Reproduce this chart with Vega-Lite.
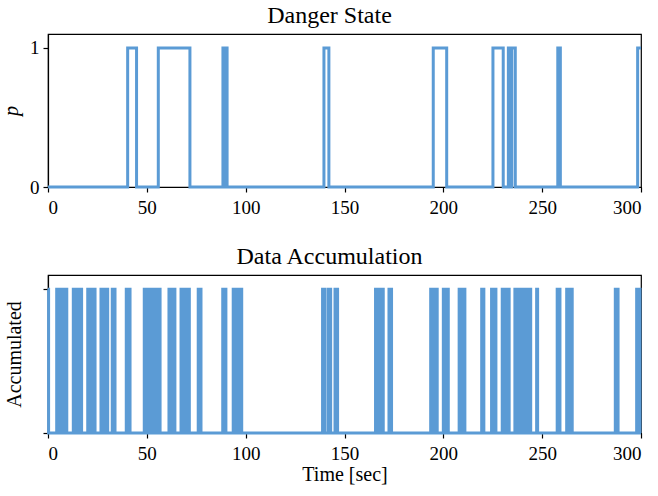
{
  "$schema": "https://vega.github.io/schema/vega-lite/v6.json",
  "background": "white",
  "padding": {"left": 0, "right": 0, "top": 3, "bottom": 5},
  "spacing": 26,
  "config": {
    "font": "Liberation Serif",
    "view": {"stroke": "black", "strokeWidth": 1.2},
    "axis": {"domainColor": "black", "tickColor": "black", "labelColor": "black", "titleColor": "black", "labelFont": "Liberation Serif", "titleFont": "Liberation Serif", "labelFontSize": 19, "titleFontSize": 20, "titleFontWeight": "normal", "grid": false, "tickSize": 5, "domainWidth": 1.2, "tickWidth": 1.2},
    "title": {"font": "Liberation Serif", "fontSize": 24, "fontWeight": "normal", "color": "black", "offset": 6, "dx": -15}
  },
  "datasets": {
    "danger": [
      {"t": 0, "p": 0}, {"t": 40.3, "p": 1}, {"t": 44.8, "p": 0}, {"t": 55.8, "p": 1}, {"t": 71.8, "p": 0},
      {"t": 88.5, "p": 1}, {"t": 89.0, "p": 0}, {"t": 89.4, "p": 1}, {"t": 89.8, "p": 0}, {"t": 90.1, "p": 1}, {"t": 90.6, "p": 0},
      {"t": 139.6, "p": 1}, {"t": 142.1, "p": 0}, {"t": 194.9, "p": 1}, {"t": 201.7, "p": 0},
      {"t": 225.1, "p": 1}, {"t": 230.3, "p": 0}, {"t": 232.9, "p": 1}, {"t": 234.0, "p": 0}, {"t": 234.6, "p": 1}, {"t": 236.4, "p": 0},
      {"t": 257.9, "p": 1}, {"t": 258.4, "p": 0}, {"t": 258.7, "p": 1}, {"t": 259.2, "p": 0},
      {"t": 298.3, "p": 1}, {"t": 300, "p": 1}
    ],
    "accum": [
      {"t": 0, "a": 1}, {"t": 0.3, "a": 0},
      {"t": 4.4, "a": 1}, {"t": 4.9, "a": 0}, {"t": 5.3, "a": 1}, {"t": 5.8, "a": 0}, {"t": 6.2, "a": 1}, {"t": 6.7, "a": 0}, {"t": 7.1, "a": 1}, {"t": 7.6, "a": 0}, {"t": 8.0, "a": 1}, {"t": 8.5, "a": 0}, {"t": 8.9, "a": 1}, {"t": 9.5, "a": 0},
      {"t": 12.8, "a": 1}, {"t": 13.3, "a": 0}, {"t": 13.7, "a": 1}, {"t": 14.2, "a": 0}, {"t": 14.6, "a": 1}, {"t": 15.1, "a": 0}, {"t": 15.5, "a": 1}, {"t": 16.0, "a": 0}, {"t": 16.4, "a": 1}, {"t": 17.0, "a": 0},
      {"t": 20.1, "a": 1}, {"t": 20.6, "a": 0}, {"t": 20.8, "a": 1}, {"t": 21.2, "a": 0},
      {"t": 22.4, "a": 1}, {"t": 22.9, "a": 0}, {"t": 23.3, "a": 1}, {"t": 23.8, "a": 0},
      {"t": 26.8, "a": 1}, {"t": 27.3, "a": 0}, {"t": 27.7, "a": 1}, {"t": 28.2, "a": 0}, {"t": 28.6, "a": 1}, {"t": 29.1, "a": 0}, {"t": 29.6, "a": 1}, {"t": 30.2, "a": 0},
      {"t": 32.5, "a": 1}, {"t": 33.0, "a": 0}, {"t": 33.4, "a": 1}, {"t": 33.9, "a": 0},
      {"t": 39.6, "a": 1}, {"t": 40.1, "a": 0}, {"t": 40.5, "a": 1}, {"t": 41.0, "a": 0}, {"t": 41.1, "a": 1}, {"t": 41.5, "a": 0},
      {"t": 48.7, "a": 1}, {"t": 49.2, "a": 0}, {"t": 49.6, "a": 1}, {"t": 50.1, "a": 0}, {"t": 50.5, "a": 1}, {"t": 51.0, "a": 0}, {"t": 51.4, "a": 1}, {"t": 51.9, "a": 0}, {"t": 52.1, "a": 1}, {"t": 52.5, "a": 0},
      {"t": 53.3, "a": 1}, {"t": 53.6, "a": 0}, {"t": 54.2, "a": 1}, {"t": 54.7, "a": 0}, {"t": 55.1, "a": 1}, {"t": 55.6, "a": 0}, {"t": 56.0, "a": 1}, {"t": 56.7, "a": 0},
      {"t": 61.2, "a": 1}, {"t": 61.7, "a": 0}, {"t": 62.1, "a": 1}, {"t": 62.6, "a": 0}, {"t": 63.0, "a": 1}, {"t": 63.5, "a": 0}, {"t": 63.8, "a": 1}, {"t": 64.2, "a": 0},
      {"t": 67.3, "a": 1}, {"t": 67.8, "a": 0}, {"t": 68.2, "a": 1}, {"t": 68.7, "a": 0}, {"t": 69.1, "a": 1}, {"t": 69.6, "a": 0}, {"t": 70.0, "a": 1}, {"t": 70.5, "a": 0}, {"t": 70.9, "a": 1}, {"t": 71.5, "a": 0},
      {"t": 76.0, "a": 1}, {"t": 76.5, "a": 0}, {"t": 76.9, "a": 1}, {"t": 77.4, "a": 0},
      {"t": 88.4, "a": 1}, {"t": 88.9, "a": 0}, {"t": 89.4, "a": 1}, {"t": 90.0, "a": 0},
      {"t": 93.7, "a": 1}, {"t": 94.2, "a": 0}, {"t": 94.6, "a": 1}, {"t": 95.1, "a": 0}, {"t": 95.5, "a": 1}, {"t": 96.0, "a": 0}, {"t": 96.4, "a": 1}, {"t": 96.9, "a": 0}, {"t": 97.3, "a": 1}, {"t": 98.0, "a": 0},
      {"t": 138.9, "a": 1}, {"t": 139.4, "a": 0}, {"t": 139.6, "a": 1}, {"t": 140.1, "a": 0},
      {"t": 141.8, "a": 1}, {"t": 142.3, "a": 0}, {"t": 142.5, "a": 1}, {"t": 143.0, "a": 0},
      {"t": 145.2, "a": 1}, {"t": 145.7, "a": 0}, {"t": 146.0, "a": 1}, {"t": 146.5, "a": 0},
      {"t": 165.7, "a": 1}, {"t": 166.2, "a": 0}, {"t": 166.6, "a": 1}, {"t": 167.1, "a": 0}, {"t": 167.5, "a": 1}, {"t": 168.0, "a": 0}, {"t": 168.4, "a": 1}, {"t": 168.9, "a": 0}, {"t": 169.1, "a": 1}, {"t": 169.6, "a": 0},
      {"t": 172.5, "a": 1}, {"t": 173.0, "a": 0}, {"t": 173.3, "a": 1}, {"t": 173.8, "a": 0},
      {"t": 193.6, "a": 1}, {"t": 194.1, "a": 0}, {"t": 194.5, "a": 1}, {"t": 195.0, "a": 0}, {"t": 195.4, "a": 1}, {"t": 195.9, "a": 0}, {"t": 196.3, "a": 1}, {"t": 196.9, "a": 0},
      {"t": 200.0, "a": 1}, {"t": 200.5, "a": 0}, {"t": 200.9, "a": 1}, {"t": 201.4, "a": 0}, {"t": 201.9, "a": 1}, {"t": 202.5, "a": 0},
      {"t": 208.0, "a": 1}, {"t": 208.5, "a": 0}, {"t": 208.9, "a": 1}, {"t": 209.4, "a": 0}, {"t": 209.8, "a": 1}, {"t": 210.3, "a": 0}, {"t": 210.5, "a": 1}, {"t": 210.9, "a": 0},
      {"t": 219.4, "a": 1}, {"t": 219.9, "a": 0}, {"t": 220.1, "a": 1}, {"t": 220.5, "a": 0},
      {"t": 224.4, "a": 1}, {"t": 224.9, "a": 0}, {"t": 225.3, "a": 1}, {"t": 225.8, "a": 0}, {"t": 226.1, "a": 1}, {"t": 226.6, "a": 0},
      {"t": 229.8, "a": 1}, {"t": 230.3, "a": 0}, {"t": 230.7, "a": 1}, {"t": 231.2, "a": 0}, {"t": 231.6, "a": 1}, {"t": 232.1, "a": 0}, {"t": 232.5, "a": 1}, {"t": 233.3, "a": 0},
      {"t": 236.2, "a": 1}, {"t": 236.7, "a": 0}, {"t": 237.1, "a": 1}, {"t": 237.6, "a": 0}, {"t": 238.0, "a": 1}, {"t": 238.5, "a": 0}, {"t": 238.9, "a": 1}, {"t": 239.4, "a": 0}, {"t": 239.8, "a": 1}, {"t": 240.4, "a": 0},
      {"t": 241.8, "a": 1}, {"t": 242.3, "a": 0}, {"t": 242.7, "a": 1}, {"t": 243.2, "a": 0}, {"t": 243.6, "a": 1}, {"t": 244.2, "a": 0},
      {"t": 247.2, "a": 1}, {"t": 247.7, "a": 0},
      {"t": 257.6, "a": 1}, {"t": 258.1, "a": 0}, {"t": 258.5, "a": 1}, {"t": 259.0, "a": 0},
      {"t": 262.4, "a": 1}, {"t": 262.9, "a": 0}, {"t": 263.3, "a": 1}, {"t": 263.8, "a": 0}, {"t": 264.2, "a": 1}, {"t": 264.7, "a": 0}, {"t": 264.8, "a": 1}, {"t": 265.2, "a": 0},
      {"t": 287.0, "a": 1}, {"t": 287.5, "a": 0}, {"t": 287.8, "a": 1}, {"t": 288.4, "a": 0},
      {"t": 297.8, "a": 1}, {"t": 298.3, "a": 0}, {"t": 298.7, "a": 1}, {"t": 299.5, "a": 0}, {"t": 300, "a": 0}
    ]
  },
  "vconcat": [
    {
      "title": "Danger State",
      "width": 593,
      "height": 153,
      "data": {"name": "danger"},
      "mark": {"type": "line", "interpolate": "step-after", "color": "#5b9bd5", "strokeWidth": 3, "clip": false},
      "encoding": {
        "x": {"field": "t", "type": "quantitative", "scale": {"domain": [0, 300], "nice": false, "zero": false},
          "axis": {"values": [0, 50, 100, 150, 200, 250, 300], "title": null, "labelPadding": 6}},
        "y": {"field": "p", "type": "quantitative", "scale": {"domain": [0, 1.1], "nice": false},
          "axis": {"values": [0, 1], "format": "d", "title": "p", "titleFontStyle": "italic", "labelPadding": 4, "titlePadding": 8}}
      }
    },
    {
      "title": "Data Accumulation",
      "width": 593,
      "height": 158,
      "data": {"name": "accum"},
      "mark": {"type": "line", "interpolate": "step-after", "color": "#5b9bd5", "strokeWidth": 3, "clip": false},
      "encoding": {
        "x": {"field": "t", "type": "quantitative", "scale": {"domain": [0, 300], "nice": false, "zero": false},
          "axis": {"values": [0, 50, 100, 150, 200, 250, 300], "title": "Time [sec]", "labelPadding": 6, "titlePadding": 1}},
        "y": {"field": "a", "type": "quantitative", "scale": {"domain": [0, 1.1], "nice": false},
          "axis": {"values": [0, 1], "labels": false, "title": "Accumulated", "titlePadding": 18}}
      }
    }
  ]
}
